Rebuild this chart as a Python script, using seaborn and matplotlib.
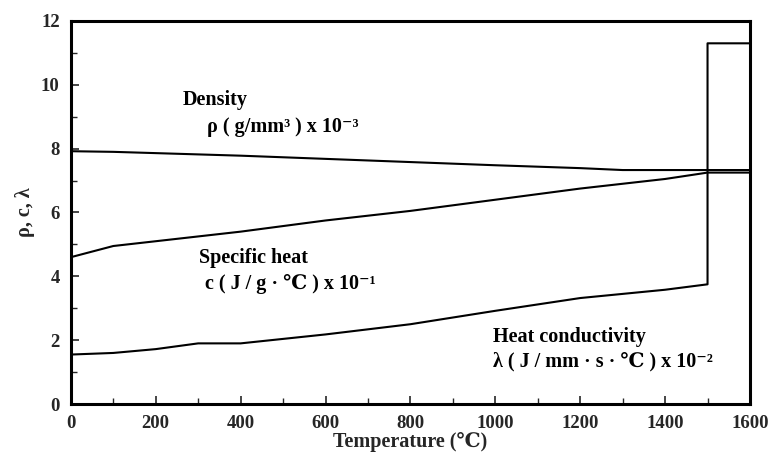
import matplotlib
matplotlib.use("Agg")
import matplotlib.pyplot as plt
import seaborn as sns
import pandas as pd
from matplotlib.ticker import MultipleLocator

sns.set_theme(style="white")
plt.rcParams['font.family'] = ['Liberation Serif', 'DejaVu Serif', 'Noto Sans CJK JP', 'DejaVu Sans']
plt.rcParams['font.weight'] = 'bold'

# Data
dens_T = [0, 100, 200, 400, 600, 800, 1000, 1200, 1300, 1500, 1600]
dens_v = [7.92, 7.90, 7.86, 7.78, 7.68, 7.58, 7.48, 7.39, 7.33, 7.33, 7.33]

heat_T = [0, 100, 200, 300, 400, 600, 800, 1000, 1200, 1400, 1500, 1600]
heat_v = [4.60, 4.95, 5.10, 5.25, 5.40, 5.75, 6.05, 6.40, 6.75, 7.05, 7.25, 7.25]

cond_T = [0, 100, 200, 300, 400, 600, 800, 1000, 1200, 1400, 1500, 1500, 1600]
cond_v = [1.55, 1.60, 1.72, 1.90, 1.90, 2.18, 2.50, 2.92, 3.32, 3.58, 3.75, 11.30, 11.30]

df_d = pd.DataFrame({"T": dens_T, "v": dens_v})
df_h = pd.DataFrame({"T": heat_T, "v": heat_v})
df_c = pd.DataFrame({"T": cond_T, "v": cond_v})

fig = plt.figure(figsize=(7.7, 4.66), dpi=100)
ax = fig.add_axes([0.092, 0.133, 0.882, 0.822])

for d in (df_d, df_h, df_c):
    sns.lineplot(data=d, x="T", y="v", ax=ax, color="black", linewidth=1.5,
                 sort=False, estimator=None)

ax.set_xlim(0, 1600)
ax.set_ylim(0, 12)
ax.xaxis.set_major_locator(MultipleLocator(200))
ax.xaxis.set_minor_locator(MultipleLocator(100))
ax.yaxis.set_major_locator(MultipleLocator(2))
ax.yaxis.set_minor_locator(MultipleLocator(1))
ax.tick_params(axis='both', which='both', direction='in', labelsize=13.5,
               left=True, bottom=True, pad=8)
ax.tick_params(which='major', length=6, width=1.2)
ax.tick_params(which='minor', length=4, width=1.0)
for lab in ax.get_xticklabels() + ax.get_yticklabels():
    lab.set_fontweight('bold')
for s in ax.spines.values():
    s.set_color('black')
    s.set_linewidth(2.2)

ax.set_xlabel("Temperature (℃)", fontsize=14.5, fontweight='bold', labelpad=0)
ax.set_ylabel("ρ, c, λ", fontsize=14.5, fontweight='bold', labelpad=4)

tk = dict(fontsize=14.5, fontweight='bold', ha='left', va='center', color='black')
ax.text(264, 9.53, "Density", **tk)
ax.text(320, 8.68, "ρ ( g/mm³ ) x 10⁻³", **tk)
ax.text(302, 4.58, "Specific heat", **tk)
ax.text(316, 3.76, "c ( J / g · ℃ ) x 10⁻¹", **tk)
ax.text(994, 2.10, "Heat conductivity", **tk)
ax.text(994, 1.32, "λ ( J / mm · s · ℃ ) x 10⁻²", **tk)

fig.savefig("out.png", dpi=100)
